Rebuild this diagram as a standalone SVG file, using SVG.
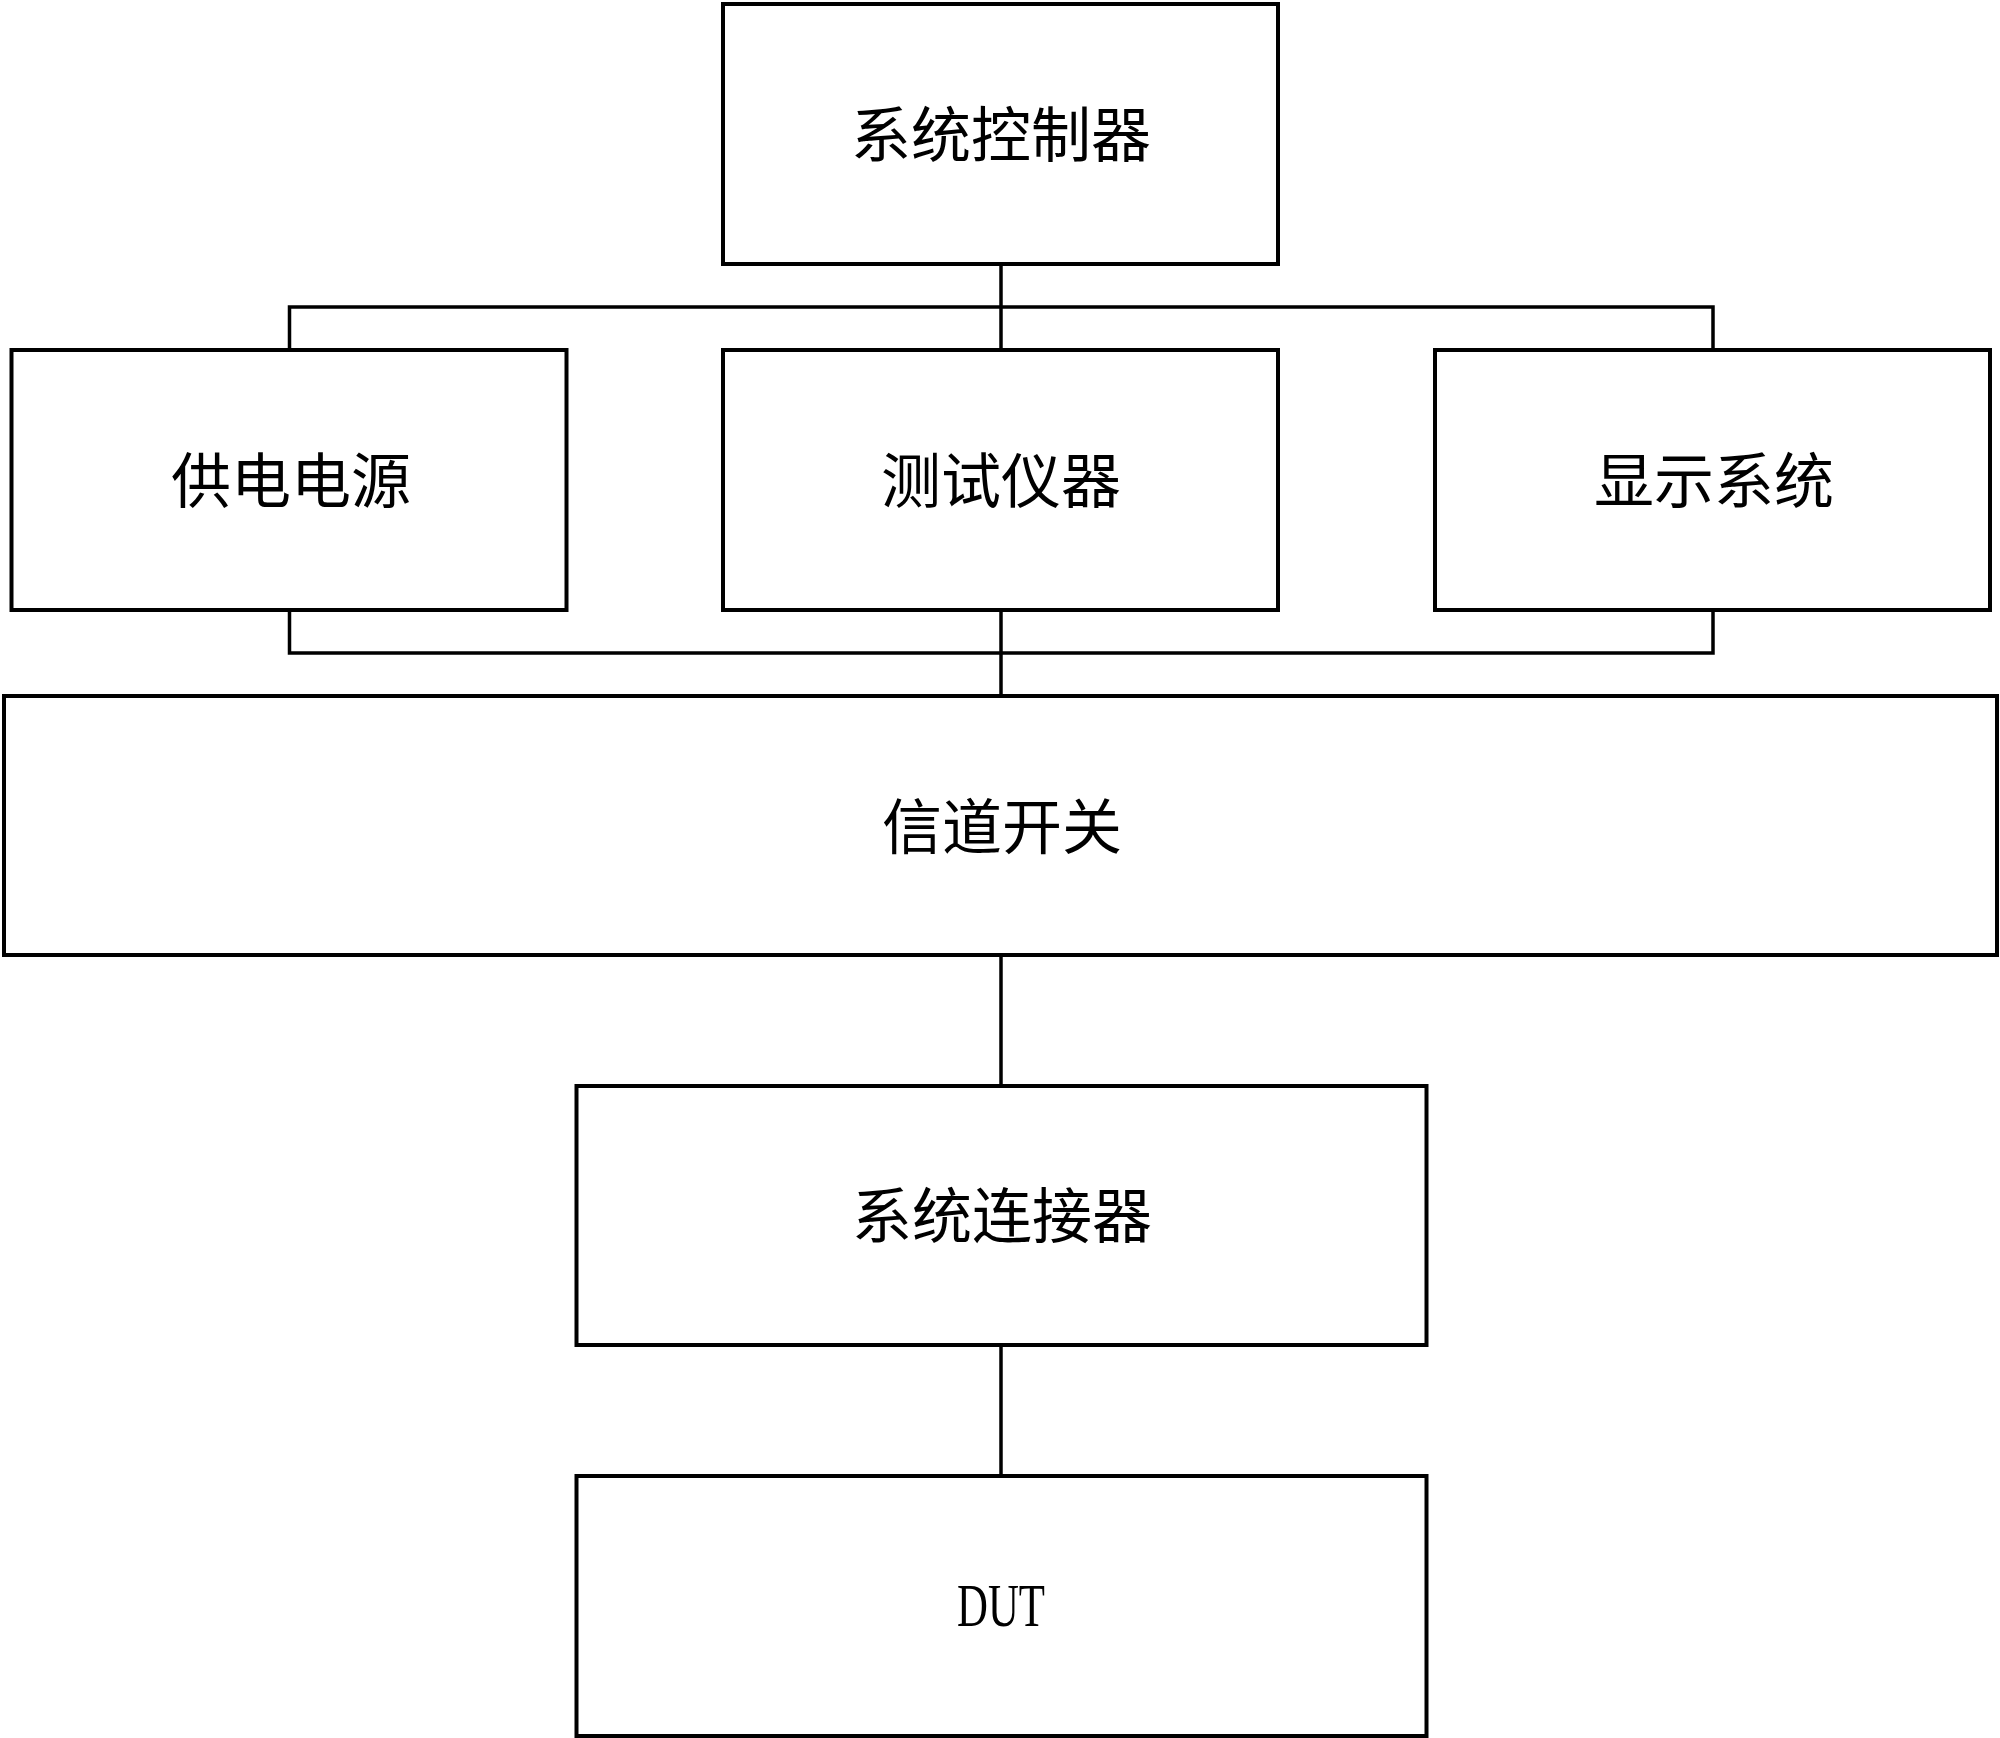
<svg xmlns="http://www.w3.org/2000/svg" width="2000" height="1738" viewBox="0 0 2000 1738">
<style>
.box{fill:#fff;stroke:#000;stroke-width:4}
.ln{fill:none;stroke:#000;stroke-width:3.5}
.t{font-family:"Noto Sans CJK SC","Noto Sans",sans-serif;font-size:60px;fill:#000;text-anchor:middle}
.lat{font-family:"Liberation Serif",serif;font-size:62px;fill:#000;text-anchor:middle}
</style>
<rect width="2000" height="1738" fill="#fff"/>
<g id="connectors">
<line class="ln" x1="1001" y1="264" x2="1001" y2="350"/>
<polyline class="ln" points="289.5,350 289.5,307 1713,307 1713,350"/>
<polyline class="ln" points="289.5,610 289.5,653 1713,653 1713,610"/>
<line class="ln" x1="1001" y1="610" x2="1001" y2="696"/>
<line class="ln" x1="1001" y1="955" x2="1001" y2="1086"/>
<line class="ln" x1="1001" y1="1345" x2="1001" y2="1476"/>
</g>
<g id="controller"><rect class="box" x="723" y="4" width="555" height="260"/><text class="t" x="1001" y="157">系统控制器</text></g>
<g id="power"><rect class="box" x="11.5" y="350" width="555" height="260"/><text class="t" x="291" y="503">供电电源</text></g>
<g id="instrument"><rect class="box" x="723" y="350" width="555" height="260"/><text class="t" x="1001" y="503">测试仪器</text></g>
<g id="display"><rect class="box" x="1435" y="350" width="555" height="260"/><text class="t" x="1714" y="503">显示系统</text></g>
<g id="switch"><rect class="box" x="4" y="696" width="1993" height="259"/><text class="t" x="1002" y="849">信道开关</text></g>
<g id="connector"><rect class="box" x="576.5" y="1086" width="850" height="259"/><text class="t" x="1002" y="1238">系统连接器</text></g>
<g id="dut"><rect class="box" x="576.5" y="1476" width="850" height="260"/><text class="lat" x="1001" y="1626" textLength="88" lengthAdjust="spacingAndGlyphs">DUT</text></g>
</svg>
